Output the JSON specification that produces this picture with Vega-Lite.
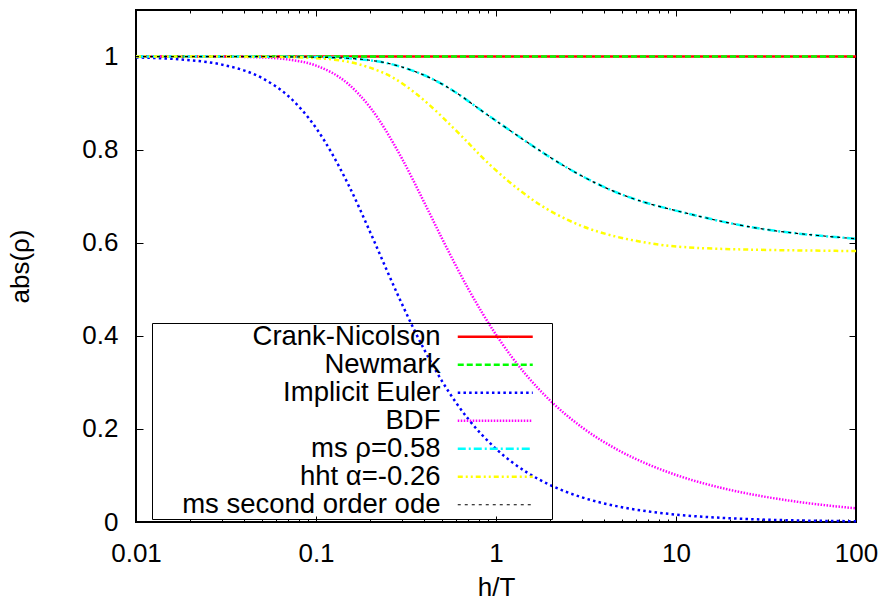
{
  "$schema": "https://vega.github.io/schema/vega-lite/v6.json",
  "width": 720,
  "height": 512,
  "autosize": {"type": "none"},
  "padding": {"left": 136, "top": 10, "right": 30, "bottom": 88},
  "background": "white",
  "data": {
    "values": [
      {"s": "Crank-Nicolson", "x": 0.01, "y": 1.0},
      {"s": "Crank-Nicolson", "x": 100, "y": 1.0},
      {"s": "Newmark", "x": 0.01, "y": 1.0},
      {"s": "Newmark", "x": 100, "y": 1.0},

      {"s": "Implicit Euler", "x": 0.01, "y": 0.998},
      {"s": "Implicit Euler", "x": 0.015, "y": 0.9956},
      {"s": "Implicit Euler", "x": 0.02, "y": 0.9922},
      {"s": "Implicit Euler", "x": 0.03, "y": 0.9827},
      {"s": "Implicit Euler", "x": 0.05, "y": 0.954},
      {"s": "Implicit Euler", "x": 0.07, "y": 0.9154},
      {"s": "Implicit Euler", "x": 0.1, "y": 0.8467},
      {"s": "Implicit Euler", "x": 0.15, "y": 0.7277},
      {"s": "Implicit Euler", "x": 0.2, "y": 0.6227},
      {"s": "Implicit Euler", "x": 0.25, "y": 0.537},
      {"s": "Implicit Euler", "x": 0.3, "y": 0.4687},
      {"s": "Implicit Euler", "x": 0.4, "y": 0.3697},
      {"s": "Implicit Euler", "x": 0.5, "y": 0.3033},
      {"s": "Implicit Euler", "x": 0.6, "y": 0.2564},
      {"s": "Implicit Euler", "x": 0.7, "y": 0.2217},
      {"s": "Implicit Euler", "x": 1, "y": 0.1572},
      {"s": "Implicit Euler", "x": 1.5, "y": 0.1055},
      {"s": "Implicit Euler", "x": 2, "y": 0.0793},
      {"s": "Implicit Euler", "x": 3, "y": 0.053},
      {"s": "Implicit Euler", "x": 5, "y": 0.0318},
      {"s": "Implicit Euler", "x": 7, "y": 0.0227},
      {"s": "Implicit Euler", "x": 10, "y": 0.0159},
      {"s": "Implicit Euler", "x": 20, "y": 0.008},
      {"s": "Implicit Euler", "x": 30, "y": 0.0053},
      {"s": "Implicit Euler", "x": 50, "y": 0.0032},
      {"s": "Implicit Euler", "x": 100, "y": 0.0016},

      {"s": "BDF", "x": 0.01, "y": 1.0},
      {"s": "BDF", "x": 0.03, "y": 0.9998},
      {"s": "BDF", "x": 0.05, "y": 0.9981},
      {"s": "BDF", "x": 0.07, "y": 0.9937},
      {"s": "BDF", "x": 0.1, "y": 0.9806},
      {"s": "BDF", "x": 0.15, "y": 0.9421},
      {"s": "BDF", "x": 0.2, "y": 0.8906},
      {"s": "BDF", "x": 0.3, "y": 0.7811},
      {"s": "BDF", "x": 0.4, "y": 0.686},
      {"s": "BDF", "x": 0.5, "y": 0.61},
      {"s": "BDF", "x": 0.7, "y": 0.5016},
      {"s": "BDF", "x": 1, "y": 0.4025},
      {"s": "BDF", "x": 1.5, "y": 0.3121},
      {"s": "BDF", "x": 2, "y": 0.2609},
      {"s": "BDF", "x": 3, "y": 0.2036},
      {"s": "BDF", "x": 5, "y": 0.1503},
      {"s": "BDF", "x": 7, "y": 0.1238},
      {"s": "BDF", "x": 10, "y": 0.1011},
      {"s": "BDF", "x": 20, "y": 0.0689},
      {"s": "BDF", "x": 30, "y": 0.0554},
      {"s": "BDF", "x": 50, "y": 0.0422},
      {"s": "BDF", "x": 70, "y": 0.0354},
      {"s": "BDF", "x": 100, "y": 0.0294},

      {"s": "ms ρ=0.58", "x": 0.01, "y": 1.0},
      {"s": "ms ρ=0.58", "x": 0.05, "y": 1.0},
      {"s": "ms ρ=0.58", "x": 0.1, "y": 0.999},
      {"s": "ms ρ=0.58", "x": 0.15, "y": 0.997},
      {"s": "ms ρ=0.58", "x": 0.22, "y": 0.991},
      {"s": "ms ρ=0.58", "x": 0.3, "y": 0.979},
      {"s": "ms ρ=0.58", "x": 0.45, "y": 0.953},
      {"s": "ms ρ=0.58", "x": 0.63, "y": 0.918},
      {"s": "ms ρ=0.58", "x": 0.82, "y": 0.885},
      {"s": "ms ρ=0.58", "x": 1.0, "y": 0.862},
      {"s": "ms ρ=0.58", "x": 1.25, "y": 0.836},
      {"s": "ms ρ=0.58", "x": 1.9, "y": 0.788},
      {"s": "ms ρ=0.58", "x": 2.9, "y": 0.745},
      {"s": "ms ρ=0.58", "x": 4.5, "y": 0.709},
      {"s": "ms ρ=0.58", "x": 6.9, "y": 0.684},
      {"s": "ms ρ=0.58", "x": 10.5, "y": 0.667},
      {"s": "ms ρ=0.58", "x": 14, "y": 0.655},
      {"s": "ms ρ=0.58", "x": 22, "y": 0.638},
      {"s": "ms ρ=0.58", "x": 33, "y": 0.627},
      {"s": "ms ρ=0.58", "x": 51, "y": 0.618},
      {"s": "ms ρ=0.58", "x": 100, "y": 0.6085},

      {"s": "hht α=-0.26", "x": 0.01, "y": 1.0},
      {"s": "hht α=-0.26", "x": 0.05, "y": 1.0},
      {"s": "hht α=-0.26", "x": 0.1, "y": 0.998},
      {"s": "hht α=-0.26", "x": 0.155, "y": 0.99},
      {"s": "hht α=-0.26", "x": 0.217, "y": 0.972},
      {"s": "hht α=-0.26", "x": 0.275, "y": 0.954},
      {"s": "hht α=-0.26", "x": 0.355, "y": 0.923},
      {"s": "hht α=-0.26", "x": 0.458, "y": 0.886},
      {"s": "hht α=-0.26", "x": 0.579, "y": 0.847},
      {"s": "hht α=-0.26", "x": 0.717, "y": 0.811},
      {"s": "hht α=-0.26", "x": 0.85, "y": 0.78},
      {"s": "hht α=-0.26", "x": 1.196, "y": 0.728},
      {"s": "hht α=-0.26", "x": 1.545, "y": 0.696},
      {"s": "hht α=-0.26", "x": 1.913, "y": 0.671},
      {"s": "hht α=-0.26", "x": 2.93, "y": 0.635},
      {"s": "hht α=-0.26", "x": 4.48, "y": 0.6135},
      {"s": "hht α=-0.26", "x": 6.88, "y": 0.599},
      {"s": "hht α=-0.26", "x": 10.5, "y": 0.59},
      {"s": "hht α=-0.26", "x": 21.7, "y": 0.585},
      {"s": "hht α=-0.26", "x": 100, "y": 0.582},

      {"s": "ms second order ode", "x": 0.01, "y": 1.0},
      {"s": "ms second order ode", "x": 0.05, "y": 1.0},
      {"s": "ms second order ode", "x": 0.1, "y": 0.999},
      {"s": "ms second order ode", "x": 0.15, "y": 0.997},
      {"s": "ms second order ode", "x": 0.22, "y": 0.991},
      {"s": "ms second order ode", "x": 0.3, "y": 0.979},
      {"s": "ms second order ode", "x": 0.45, "y": 0.953},
      {"s": "ms second order ode", "x": 0.63, "y": 0.918},
      {"s": "ms second order ode", "x": 0.82, "y": 0.885},
      {"s": "ms second order ode", "x": 1.0, "y": 0.862},
      {"s": "ms second order ode", "x": 1.25, "y": 0.836},
      {"s": "ms second order ode", "x": 1.9, "y": 0.788},
      {"s": "ms second order ode", "x": 2.9, "y": 0.745},
      {"s": "ms second order ode", "x": 4.5, "y": 0.709},
      {"s": "ms second order ode", "x": 6.9, "y": 0.684},
      {"s": "ms second order ode", "x": 10.5, "y": 0.667},
      {"s": "ms second order ode", "x": 14, "y": 0.655},
      {"s": "ms second order ode", "x": 22, "y": 0.638},
      {"s": "ms second order ode", "x": 33, "y": 0.627},
      {"s": "ms second order ode", "x": 51, "y": 0.618},
      {"s": "ms second order ode", "x": 100, "y": 0.6085}
    ]
  },
  "encoding": {
    "x": {"field": "x", "type": "quantitative", "scale": {"type": "log", "domain": [0.01, 100], "nice": false}},
    "y": {"field": "y", "type": "quantitative", "scale": {"domain": [0, 1.1], "nice": false, "zero": false}},
    "color": {
      "field": "s", "type": "nominal",
      "scale": {
        "domain": ["Crank-Nicolson", "Newmark", "Implicit Euler", "BDF", "ms ρ=0.58", "hht α=-0.26", "ms second order ode"],
        "range": ["#ff0000", "#00ff00", "#0000ff", "#ff00ff", "#00ffff", "#ffff00", "#000000"]
      },
      "legend": {"title": null, "orient": "none", "legendX": 16, "legendY": 313, "direction": "vertical"}
    },
    "strokeDash": {
      "field": "s", "type": "nominal",
      "scale": {
        "domain": ["Crank-Nicolson", "Newmark", "Implicit Euler", "BDF", "ms ρ=0.58", "hht α=-0.26", "ms second order ode"],
        "range": [[1, 0], [6, 3], [2.5, 3.2], [1.5, 1.5], [8, 3, 2, 3], [5, 3, 2, 3, 2, 3], [3, 4]]
      },
      "legend": {"title": null, "orient": "none", "legendX": 16, "legendY": 313, "direction": "vertical"}
    },
    "strokeWidth": {
      "field": "s", "type": "nominal",
      "scale": {
        "type": "ordinal",
        "domain": ["Crank-Nicolson", "Newmark", "Implicit Euler", "BDF", "ms ρ=0.58", "hht α=-0.26", "ms second order ode"],
        "range": [2.5, 2.5, 2.5, 2.5, 2.5, 2.5, 1.2]
      },
      "legend": {"title": null, "orient": "none", "legendX": 16, "legendY": 313, "direction": "vertical"}
    }
  },
  "layer": [
    {
      "transform": [{"filter": "datum.s == 'Crank-Nicolson'"}],
      "mark": {"type": "line", "interpolate": "monotone"},
      "encoding": {
        "x": {"field": "x", "type": "quantitative", "title": "h/T",
          "axis": {
            "orient": "bottom",
            "values": [0.01, 0.02, 0.03, 0.04, 0.05, 0.06, 0.07, 0.08, 0.09, 0.1, 0.2, 0.3, 0.4, 0.5, 0.6, 0.7, 0.8, 0.9, 1, 2, 3, 4, 5, 6, 7, 8, 9, 10, 20, 30, 40, 50, 60, 70, 80, 90, 100],
            "labelExpr": "(datum.value == 0.01 || datum.value == 0.1 || datum.value == 1 || datum.value == 10 || datum.value == 100) ? format(datum.value, '~g') : ''",
            "tickSize": {"condition": {"test": "datum.value == 0.01 || datum.value == 0.1 || datum.value == 1 || datum.value == 10 || datum.value == 100", "value": -6}, "value": -3},
            "labelPadding": 24,
            "titlePadding": 5
          }
        },
        "y": {"field": "y", "type": "quantitative", "title": "abs(ρ)",
          "axis": {
            "orient": "left",
            "values": [0, 0.2, 0.4, 0.6, 0.8, 1],
            "format": "~g",
            "tickSize": -7,
            "labelPadding": 25,
            "titlePadding": 48
          }
        }
      }
    },
    {
      "transform": [{"filter": "datum.s == 'Newmark'"}],
      "mark": {"type": "line", "interpolate": "monotone"},
      "encoding": {
        "x": {"field": "x", "type": "quantitative",
          "axis": {
            "orient": "top", "title": null, "labels": false,
            "values": [0.01, 0.02, 0.03, 0.04, 0.05, 0.06, 0.07, 0.08, 0.09, 0.1, 0.2, 0.3, 0.4, 0.5, 0.6, 0.7, 0.8, 0.9, 1, 2, 3, 4, 5, 6, 7, 8, 9, 10, 20, 30, 40, 50, 60, 70, 80, 90, 100],
            "tickSize": {"condition": {"test": "datum.value == 0.01 || datum.value == 0.1 || datum.value == 1 || datum.value == 10 || datum.value == 100", "value": -6}, "value": -3}
          }
        },
        "y": {"field": "y", "type": "quantitative",
          "axis": {"orient": "right", "title": null, "labels": false, "values": [0, 0.2, 0.4, 0.6, 0.8, 1], "tickSize": -7}
        }
      }
    },
    {
      "transform": [{"filter": "datum.s == 'Implicit Euler'"}],
      "mark": {"type": "line", "interpolate": "monotone"},
      "encoding": {"x": {"field": "x", "type": "quantitative", "axis": null}, "y": {"field": "y", "type": "quantitative", "axis": null}}
    },
    {
      "transform": [{"filter": "datum.s == 'BDF'"}],
      "mark": {"type": "line", "interpolate": "monotone"},
      "encoding": {"x": {"field": "x", "type": "quantitative", "axis": null}, "y": {"field": "y", "type": "quantitative", "axis": null}}
    },
    {
      "transform": [{"filter": "datum.s == 'ms ρ=0.58'"}],
      "mark": {"type": "line", "interpolate": "basis"},
      "encoding": {"x": {"field": "x", "type": "quantitative", "axis": null}, "y": {"field": "y", "type": "quantitative", "axis": null}}
    },
    {
      "transform": [{"filter": "datum.s == 'hht α=-0.26'"}],
      "mark": {"type": "line", "interpolate": "basis"},
      "encoding": {"x": {"field": "x", "type": "quantitative", "axis": null}, "y": {"field": "y", "type": "quantitative", "axis": null}}
    },
    {
      "transform": [{"filter": "datum.s == 'ms second order ode'"}],
      "mark": {"type": "line", "interpolate": "basis"},
      "encoding": {"x": {"field": "x", "type": "quantitative", "axis": null}, "y": {"field": "y", "type": "quantitative", "axis": null}}
    }
  ],
  "resolve": {"axis": {"x": "independent", "y": "independent"}},
  "config": {
    "view": {"stroke": "black", "strokeWidth": 2},
    "axis": {
      "grid": false, "domain": false, "tickColor": "black", "tickWidth": 1,
      "labelFont": "Liberation Sans", "labelFontSize": 26, "labelColor": "black",
      "titleFont": "Liberation Sans", "titleFontSize": 26, "titleFontWeight": "normal", "titleColor": "black",
      "labelFlush": false, "labelOverlap": false, "labelBound": false
    },
    "legend": {
      "symbolType": "M-7.5,0H7.5M10.3,0", "symbolSize": 100,
      "labelAlign": "right", "labelBaseline": "middle", "labelOffset": -68.5, "symbolOffset": 329.5,
      "labelFont": "Liberation Sans", "labelFontSize": 27.5, "labelColor": "black", "labelLimit": 0,
      "rowPadding": -2,
      "strokeColor": "black", "padding": 0
    }
  }
}
